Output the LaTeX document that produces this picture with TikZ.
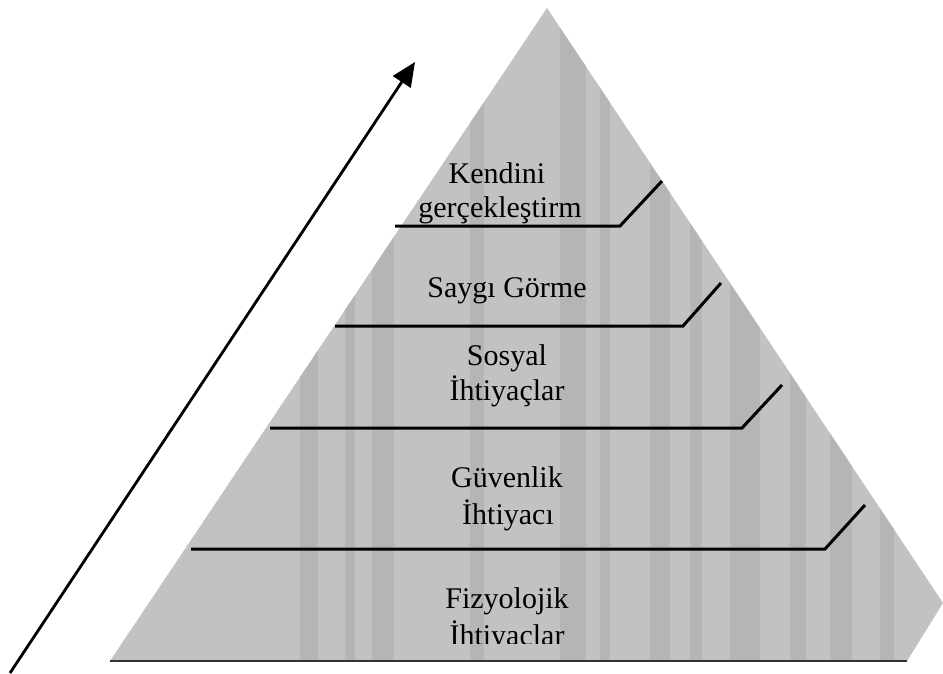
\documentclass[tikz,border=0pt]{standalone}
\usepackage{fontspec}
\setmainfont{Liberation Serif}
\usetikzlibrary{arrows.meta}
\begin{document}
\begin{tikzpicture}[x=1pt,y=-1pt,
  lvl/.style={anchor=base,inner sep=0pt,font=\fontsize{30}{35}\selectfont},
  divider/.style={line width=3pt,black},
  stripe/.style={fill=black!36,opacity=0.4}]
\useasboundingbox (0,0) rectangle (943,674);
\fill[white] (0,0) rectangle (943,674);
% pyramid body
\coordinate (apex) at (547,8);
\coordinate (rc) at (943,603);
\coordinate (rb) at (907,661);
\coordinate (lb) at (110,661);
\fill[black!24] (apex) -- (rc) -- (rb) -- (lb) -- cycle;
\begin{scope}
  \clip (apex) -- (rc) -- (rb) -- (lb) -- cycle;
  \foreach \x/\w in {300/18,345/10,372/22,470/14,560/26,600/10,650/20,690/12,730/30,790/16,830/22,880/14}{
    \fill[stripe] (\x,0) rectangle ++(\w,674);
  }
\end{scope}
\draw[line width=2pt,black!80] (lb) -- (rb);
% dividers
\coordinate (a1) at (395,226); \coordinate (b1) at (620,226); \coordinate (c1) at (662,181);
\coordinate (a2) at (335,326); \coordinate (b2) at (683,326); \coordinate (c2) at (721,283);
\coordinate (a3) at (270,428); \coordinate (b3) at (742,428); \coordinate (c3) at (782,385);
\coordinate (a4) at (191,549); \coordinate (b4) at (825,549); \coordinate (c4) at (865,505);
\draw[divider] (a1) -- (b1) -- (c1);
\draw[divider] (a2) -- (b2) -- (c2);
\draw[divider] (a3) -- (b3) -- (c3);
\draw[divider] (a4) -- (b4) -- (c4);
% labels
\node[lvl] (k1) at (497,183) {Kendini};
\node[lvl] (k2) at (500,218) {gerçekleştirm};
\node[lvl] (s) at (507,297) {Saygı Görme};
\node[lvl] (so1) at (507,365) {Sosyal};
\node[lvl] (so2) at (507,400) {İhtiyaçlar};
\node[lvl] (g1) at (507,487) {Güvenlik};
\node[lvl] (g2) at (508,524) {İhtiyacı};
\node[lvl] (f1) at (507,608) {Fizyolojik};
\begin{scope}
  \clip (380,620) rectangle (620,643);
  \node[lvl] (f2) at (507,645) {İhtiyaçlar};
\end{scope}
% arrow
\coordinate (ar0) at (10,673);
\coordinate (ar1) at (415,62);
\draw[line width=2.8pt,-{Triangle[length=24pt,width=21pt]}] (ar0) -- (ar1);
\end{tikzpicture}
\end{document}
